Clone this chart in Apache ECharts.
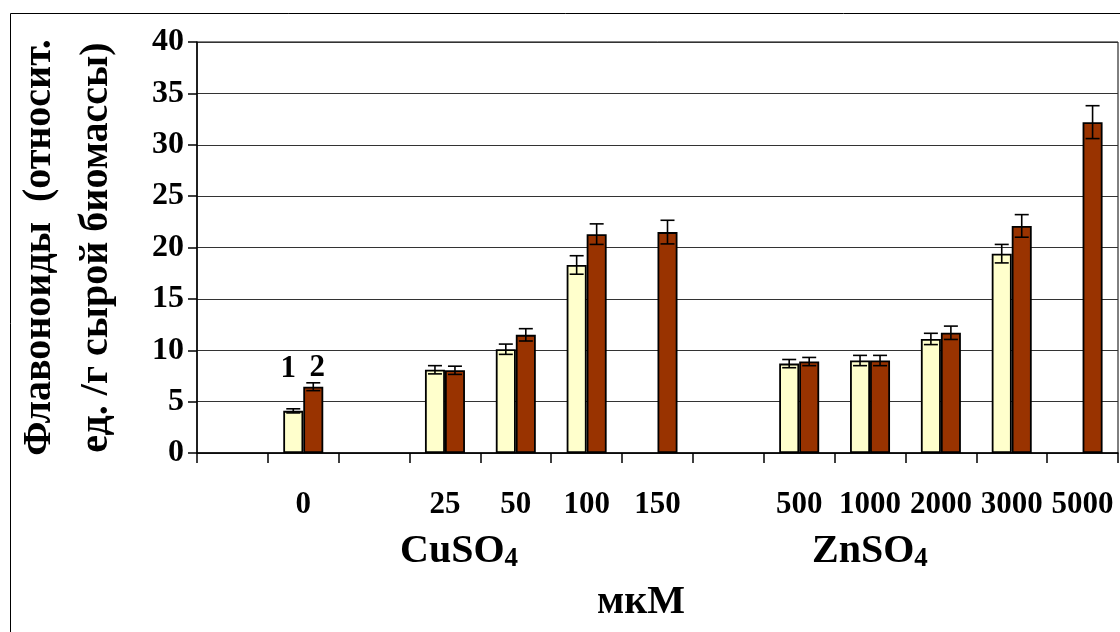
<!DOCTYPE html>
<html>
<head>
<meta charset="utf-8">
<script src="https://cdn.jsdelivr.net/npm/echarts@6/dist/echarts.min.js"></script>
<style>
  html, body { margin: 0; padding: 0; background: #fff; }
  #chart { width: 1120px; height: 632px; }
</style>
</head>
<body>
<div id="chart"></div>
<script>
// concentrations, мкМ (blank slots separate the groups)
var categories = ['', '0', '', '25', '50', '100', '150', '', '500', '1000', '2000', '3000', '5000'];
// series 1 (light) and series 2 (dark)
var values1 = [null, 4.1, null, 8.1, 10.1, 18.3, null, null, 8.7, 9.0, 11.1, 19.4, null];
var values2 = [null, 6.45, null, 8.05, 11.5, 21.3, 21.5, null, 8.9, 9.0, 11.7, 22.1, 32.2];
var errors1 = [null, 0.2, null, 0.4, 0.5, 0.9, null, null, 0.4, 0.5, 0.55, 0.9, null];
var errors2 = [null, 0.38, null, 0.4, 0.6, 1.0, 1.15, null, 0.4, 0.5, 0.65, 1.1, 1.6];
var yTicks = { min: 0, max: 40, interval: 5 };

var FONT = "'Liberation Serif', 'Times New Roman', serif";
var BAR_W = 20;

function errData(vals, errs) {
      var out = [];
      vals.forEach(function (v, i) {
            if (v != null) out.push([i, v - errs[i], v + errs[i]]);
      });
      return out;
}

function errRender(side) {
      return function (params, api) {
            var i = api.value(0);
            var top = api.coord([i, api.value(2)]);
            var bot = api.coord([i, api.value(1)]);
            var x = top[0] + side * BAR_W / 2;
            var w = 7;
            var st = { stroke: '#000', lineWidth: 1.6 };
            return {
                  type: 'group',
                  children: [
                        { type: 'line', shape: { x1: x, y1: top[1], x2: x, y2: bot[1] }, style: st },
                        { type: 'line', shape: { x1: x - w, y1: top[1], x2: x + w, y2: top[1] }, style: st },
                        { type: 'line', shape: { x1: x - w, y1: bot[1], x2: x + w, y2: bot[1] }, style: st }
                  ]
            };
      };
}

// "1" / "2" markers above the first group
var data1 = values1.slice();
data1[1] = { value: values1[1], label: { show: true, formatter: '1', position: 'top', distance: 26, offset: [-5, 0] } };
var data2 = values2.slice();
data2[1] = { value: values2[1], label: { show: true, formatter: '2', position: 'top', distance: 3, offset: [4, 0] } };

var chart = echarts.init(document.getElementById('chart'));
chart.setOption({
      backgroundColor: '#fff',
      animation: false,
      textStyle: { fontFamily: FONT, fontWeight: 'bold', color: '#000' },
      grid: {
            left: 197, right: 2, top: 42, bottom: 179,
            outerBoundsMode: 'none',
            containLabel: false,
            show: true, borderColor: '#000', borderWidth: 1
      },
      xAxis: {
            type: 'category',
            data: categories,
            axisLine: { lineStyle: { color: '#000', width: 1.5 } },
            axisTick: { show: true, length: 10, lineStyle: { color: '#000', width: 1.5 } },
            axisLabel: {
                  interval: 0, margin: 36, color: '#000',
                  fontFamily: FONT, fontWeight: 'bold', fontSize: 31
            }
      },
      yAxis: {
            type: 'value',
            min: yTicks.min, max: yTicks.max, interval: yTicks.interval,
            name: 'Флавоноиды  (относит.\nед. /г сырой биомассы)',
            nameLocation: 'middle',
            nameRotate: 90,
            nameGap: 72,
            nameTextStyle: {
                  fontFamily: FONT, fontWeight: 'bold', fontSize: 40,
                  color: '#000', lineHeight: 57
            },
            axisLine: { show: true, lineStyle: { color: '#000', width: 1.5 } },
            axisTick: { show: true, length: 9, lineStyle: { color: '#000', width: 1.5 } },
            axisLabel: {
                  margin: 13, color: '#000',
                  fontFamily: FONT, fontWeight: 'bold', fontSize: 32
            },
            splitLine: { lineStyle: { color: '#333', width: 1.2 } }
      },
      series: [
            {
                  type: 'bar',
                  data: data1,
                  barWidth: BAR_W,
                  barGap: '0%',
                  itemStyle: { color: '#FFFFCC', borderColor: '#000', borderWidth: 1.8 },
                  label: { fontFamily: FONT, fontWeight: 'bold', fontSize: 31, color: '#000' }
            },
            {
                  type: 'bar',
                  data: data2,
                  barWidth: BAR_W,
                  itemStyle: { color: '#993300', borderColor: '#000', borderWidth: 1.8 },
                  label: { fontFamily: FONT, fontWeight: 'bold', fontSize: 31, color: '#000' }
            },
            {
                  type: 'custom',
                  renderItem: errRender(-1),
                  data: errData(values1, errors1),
                  encode: { x: 0, y: [1, 2] },
                  z: 5
            },
            {
                  type: 'custom',
                  renderItem: errRender(1),
                  data: errData(values2, errors2),
                  encode: { x: 0, y: [1, 2] },
                  z: 5
            }
      ],
      graphic: [
            {
                  type: 'rect', left: 8, top: 11,
                  shape: { width: 1130, height: 640 },
                  style: { fill: null, stroke: '#000', lineWidth: 1 }
            },
            {
                  type: 'text', left: 400, top: 532,
                  style: {
                        text: '{m|CuSO}{s|4}',
                        rich: {
                              m: { fontFamily: FONT, fontWeight: 'bold', fontSize: 40, fill: '#000' },
                              s: { fontFamily: FONT, fontWeight: 'bold', fontSize: 27, fill: '#000', padding: [14, 0, 0, 0] }
                        }
                  }
            },
            {
                  type: 'text', left: 812, top: 532,
                  style: {
                        text: '{m|ZnSO}{s|4}',
                        rich: {
                              m: { fontFamily: FONT, fontWeight: 'bold', fontSize: 40, fill: '#000' },
                              s: { fontFamily: FONT, fontWeight: 'bold', fontSize: 27, fill: '#000', padding: [14, 0, 0, 0] }
                        }
                  }
            },
            {
                  type: 'text', left: 597, top: 583,
                  style: { text: 'мкМ', fontFamily: FONT, fontWeight: 'bold', fontSize: 40, fill: '#000' }
            }
      ]
});
</script>
</body>
</html>
